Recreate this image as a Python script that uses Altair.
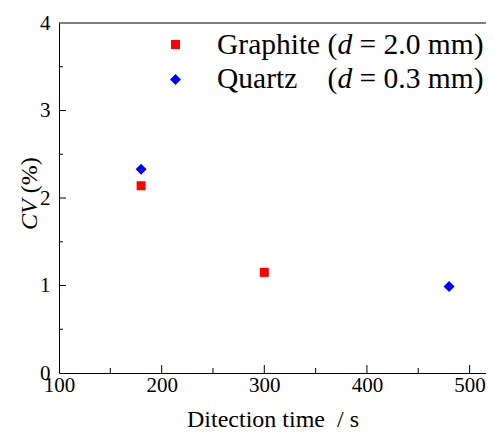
import altair as alt
import pandas as pd

# ---- data ----
series = ["Graphite", "Graphite", "Quartz", "Quartz"]
time_s = [180, 300, 180, 480]
cv_pct = [2.14, 1.15, 2.33, 0.99]

legend_names = ["Graphite", "Quartz"]
legend_sizes = ["2.0", "0.3"]
x_tick_labels = [100, 200, 300, 400, 500]
x_major = [200, 300, 400, 500]
x_minor = [150, 250, 350, 450]
y_tick_labels = [0, 1, 2, 3, 4]
y_major = [1, 2, 3]
y_minor = [0.5, 1.5, 2.5, 3.5]

W, H = 427, 350
FONT = "Liberation Serif"
LFS = 29.5        # legend font size
TFS = 24          # title font size

df = pd.DataFrame({"series": series, "time": time_s, "cv": cv_pct})

xscale = alt.Scale(domain=[100, 516], nice=False, zero=False)
yscale = alt.Scale(domain=[0, 4], nice=False)
xaxis = alt.Axis(values=x_tick_labels, ticks=False, grid=False, labelPadding=1,
                 labelFlush=False, title="Ditection time\u00a0\u00a0/ s",
                 titlePadding=12)
yaxis = alt.Axis(values=y_tick_labels, ticks=False, grid=False, labelPadding=9,
                 labelFlush=False, title=None)

points = alt.Chart(df).mark_point(filled=True, opacity=1).encode(
    x=alt.X("time:Q", scale=xscale, axis=xaxis),
    y=alt.Y("cv:Q", scale=yscale, axis=yaxis),
    color=alt.Color("series:N",
                    scale=alt.Scale(domain=legend_names, range=["#FF0000", "#0000FF"]),
                    legend=alt.Legend(title=None, orient="none", legendX=110, legendY=16,
                                      labelExpr="''", rowPadding=19, padding=0,
                                      labelFontSize=1, symbolOpacity=1)),
    shape=alt.Shape("series:N",
                    scale=alt.Scale(domain=legend_names, range=["square", "diamond"])),
    size=alt.Size("series:N",
                  scale=alt.Scale(domain=legend_names, range=[81, 121])),
)

xmaj = alt.Chart(pd.DataFrame({"time": x_major})).mark_rule(color="black").encode(
    x=alt.X("time:Q", scale=xscale, axis=xaxis), y=alt.value(H), y2=alt.value(H - 8))
xmin = alt.Chart(pd.DataFrame({"time": x_minor})).mark_rule(color="black").encode(
    x=alt.X("time:Q", scale=xscale, axis=xaxis), y=alt.value(H), y2=alt.value(H - 5))
ymaj = alt.Chart(pd.DataFrame({"cv": y_major})).mark_rule(color="black").encode(
    y=alt.Y("cv:Q", scale=yscale, axis=yaxis), x=alt.value(0), x2=alt.value(7))
ymin = alt.Chart(pd.DataFrame({"cv": y_minor})).mark_rule(color="black").encode(
    y=alt.Y("cv:Q", scale=yscale, axis=yaxis), x=alt.value(0), x2=alt.value(4))
top = alt.Chart(pd.DataFrame({"v": [0]})).mark_rule(color="black").encode(
    x=alt.value(0), x2=alt.value(W), y=alt.value(0))

# Times / Liberation Serif advance widths (per 1000 em)
ADV = {"G": 722, "r": 333, "a": 444, "p": 500, "h": 500, "i": 278, "t": 278,
       "e": 444, " ": 250, "(": 333, "d": 500, "C": 667, "V": 611}


def tw(s, fs):
    return sum(ADV[c] for c in s) * fs / 1000.0


def txt(s, x, y, italic=False, size=LFS, angle=0):
    kw = dict(align="left", baseline="alphabetic", font=FONT, fontSize=size,
              color="black", fontStyle="italic" if italic else "normal")
    if angle:
        kw["angle"] = angle
    return alt.Chart(pd.DataFrame({"t": [s]})).mark_text(**kw).encode(
        text="t:N", x=alt.value(x), y=alt.value(y))


# legend labels (with italic d)
x0 = 158
xp = x0 + tw("Graphite ", LFS)
xd = xp + tw("(", LFS)
xe = xd + tw("d", LFS) + tw(" ", LFS)
base = [30.5, 65]
leg = []
for name, sz, yb in zip(legend_names, legend_sizes, base):
    leg += [txt(name, x0, yb), txt("(", xp, yb), txt("d", xd, yb, italic=True),
            txt("= " + sz + " mm)", xe, yb)]

# y-axis title "CV (%)" with italic CV, rotated
ty0 = 207
ytitle = [txt("CV", -22, ty0, italic=True, size=TFS, angle=270),
          txt("(%)", -22, ty0 - tw("CV ", TFS), size=TFS, angle=270)]

chart = alt.layer(points, xmaj, xmin, ymaj, ymin, top, *leg, *ytitle).properties(
    width=W, height=H,
    autosize=alt.AutoSizeParams(type="none"),
    padding={"left": 51, "top": 15, "right": 0, "bottom": 58},
).configure_view(stroke=None).configure_axis(
    domainColor="black", labelColor="black", titleColor="black",
    labelFont=FONT, titleFont=FONT, labelFontSize=21, titleFontSize=TFS,
    titleFontWeight="normal",
)

chart.save("out.html", embed_options={"renderer": "svg", "actions": False})
